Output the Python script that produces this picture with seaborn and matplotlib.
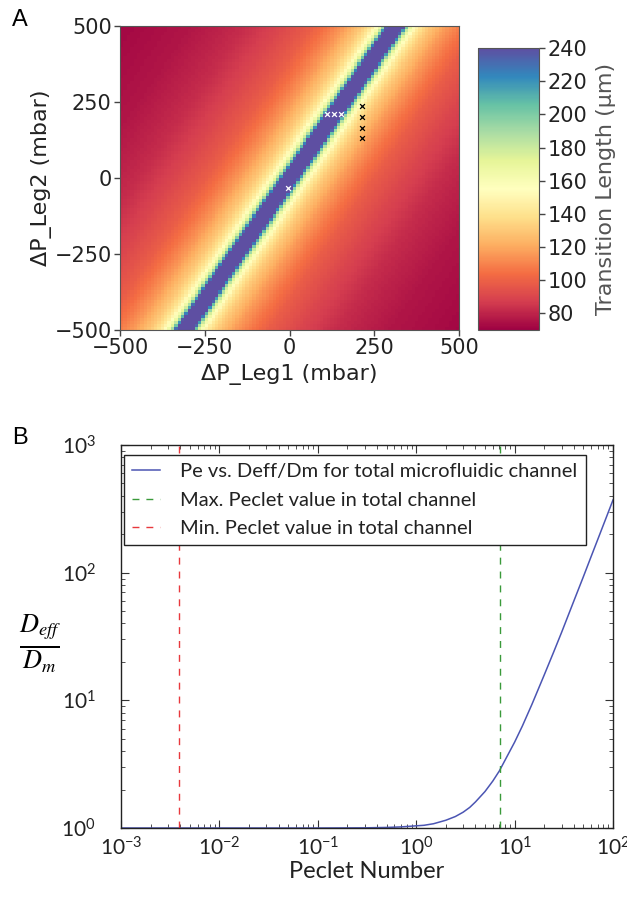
import numpy as np
import pandas as pd
import matplotlib
matplotlib.use("Agg")
import matplotlib.pyplot as plt
import seaborn as sns
from matplotlib.ticker import FixedLocator, FixedFormatter, LogLocator, NullFormatter

# ---------------- Panel A data ----------------
P_LEG1 = np.arange(-495, 500, 10)          # cell centres along x (mbar)
P_LEG2 = np.arange(495, -500, -10)         # cell centres along y (mbar), top row first
BAND_Y = [-500, 500]                        # centre line of the long-transition band
BAND_X = [-311, 314]
PROFILE_DIST = [0, 24, 29, 36, 44, 54, 66, 80, 100, 150, 200, 250, 350, 450, 600, 800, 1000]
PROFILE_VAL = [300, 245, 222, 192, 170, 157, 146, 138, 130, 116, 106, 98, 89, 82, 76, 72, 70]
CBAR_TICKS = [80, 100, 120, 140, 160, 180, 200, 220, 240]
AXIS_TICKS = [-500, -250, 0, 250, 500]
WHITE_X = [110, 131, 153, -4]
WHITE_Y = [210, 210, 210, -32]
BLACK_X = [215, 215, 215, 215]
BLACK_Y = [237, 202, 163, 130]

# ---------------- Panel B data ----------------
PE = [0.001, 0.01, 0.1, 0.3, 0.5, 0.7, 1, 1.2, 1.5, 2, 2.5, 3, 3.5, 4, 5, 6, 7, 8,
      10, 12, 15, 20, 25, 30, 40, 50, 60, 70, 85, 100]
DEFF_DM = [1.0, 1.0, 1.0, 1.003, 1.01, 1.02, 1.04, 1.05, 1.08, 1.15, 1.23, 1.33, 1.45,
           1.6, 1.93, 2.33, 2.8, 3.4, 4.7, 6.3, 9.3, 15.8, 24, 34, 60, 93, 134, 182, 268, 371]
PE_MAX = 7.1
PE_MIN = 0.0039
LEGEND_LABELS = ["Pe vs. Deff/Dm for total microfluidic channel",
                 "Max. Peclet value in total channel",
                 "Min. Peclet value in total channel"]
X_DECADES = [-3, -2, -1, 0, 1, 2]
Y_DECADES = [0, 1, 2, 3]

W, H = 627, 901
fig = plt.figure(figsize=(W / 100, H / 100), dpi=100)


def fx(px):
    return px / W


def fy(py):
    return 1 - py / H


# ---------------- Panel A ----------------
XX, YY = np.meshgrid(P_LEG1, P_LEG2)
centre = np.interp(YY, BAND_Y, BAND_X)
vals = np.interp(np.abs(XX - centre), PROFILE_DIST, PROFILE_VAL)
df = pd.DataFrame(vals, index=P_LEG2, columns=P_LEG1)

ax = fig.add_axes([fx(120), fy(330), fx(459) - fx(120), fy(26) - fy(330)])
cax = fig.add_axes([fx(478), fy(330), fx(539) - fx(478), fy(48) - fy(330)])
sns.heatmap(df, ax=ax, cmap="Spectral", vmin=70, vmax=240, cbar_ax=cax,
            xticklabels=False, yticklabels=False, cbar_kws={"ticks": CBAR_TICKS})

ncol = len(P_LEG1)
step = 1000 / ncol


def col_of(v):
    return (np.asarray(v) + 500) / step


def row_of(v):
    return (500 - np.asarray(v)) / step


ax.scatter(col_of(WHITE_X), row_of(WHITE_Y), marker="x", s=12, color="white", linewidths=0.9, zorder=5)
ax.scatter(col_of(BLACK_X), row_of(BLACK_Y), marker="x", s=12, color="black", linewidths=0.9, zorder=5)

lab = lambda v: str(v).replace("-", "\u2212")
ax.set_xticks(col_of(AXIS_TICKS))
ax.set_xticklabels([lab(v) for v in AXIS_TICKS], rotation=0)
ax.set_yticks(row_of(AXIS_TICKS))
ax.set_yticklabels([lab(v) for v in AXIS_TICKS], rotation=0)
ax.tick_params(axis="both", which="major", direction="out", length=4, width=1,
               color="#444444", labelsize=15, labelcolor="#222222", pad=2)
for s in ax.spines.values():
    s.set_visible(True)
    s.set_color("#555555")
    s.set_linewidth(0.8)
ax.set_xlabel("\u0394P_Leg1 (mbar)", fontsize=16, color="#222222", labelpad=4)
ax.set_ylabel("\u0394P_Leg2 (mbar)", fontsize=16, color="#222222", labelpad=2)

cb = ax.collections[0].colorbar
cb.outline.set_visible(True)
cb.outline.set_linewidth(0.8)
cb.outline.set_edgecolor("#555555")
cax.tick_params(labelsize=15, length=4, width=1, color="#444444", labelcolor="#222222", pad=2)
cax.set_yticklabels([str(v) for v in CBAR_TICKS])
cax.set_ylabel("Transition Length (\u03bcm)", fontsize=16, color="#555555", labelpad=6)

fig.text(fx(12), fy(20), "A", fontsize=17, family="Liberation Sans", va="center", ha="left")
fig.text(fx(12), fy(438), "B", fontsize=17, family="Liberation Sans", va="center", ha="left")

# ---------------- Panel B ----------------
plt.rcParams["mathtext.fontset"] = "custom"
plt.rcParams["mathtext.rm"] = "Lato"
plt.rcParams["mathtext.it"] = "Lato:italic"
plt.rcParams["mathtext.bf"] = "Lato:bold"

ax2 = fig.add_axes([fx(121), fy(828), fx(613) - fx(121), fy(445) - fy(828)])
sns.lineplot(x=PE, y=DEFF_DM, ax=ax2, color="#4b55b3", linewidth=1.1, label=LEGEND_LABELS[0])
ax2.axvline(PE_MAX, color="#3a9a3a", linestyle=(0, (5, 5)), linewidth=1.0, label=LEGEND_LABELS[1])
ax2.axvline(PE_MIN, color="#e8383d", linestyle=(0, (5, 5)), linewidth=1.0, label=LEGEND_LABELS[2])
ax2.set_xscale("log")
ax2.set_yscale("log")
ax2.set_xlim(10.0 ** X_DECADES[0], 10.0 ** X_DECADES[-1])
ax2.set_ylim(10.0 ** Y_DECADES[0], 10.0 ** Y_DECADES[-1])

ax2.xaxis.set_major_locator(FixedLocator([10.0 ** d for d in X_DECADES]))
ax2.xaxis.set_major_formatter(FixedFormatter([r"$\mathrm{10^{%d}}$" % d for d in X_DECADES]))
ax2.yaxis.set_major_locator(FixedLocator([10.0 ** d for d in Y_DECADES]))
ax2.yaxis.set_major_formatter(FixedFormatter([r"$\mathrm{10^{%d}}$" % d for d in Y_DECADES]))
ax2.xaxis.set_minor_locator(LogLocator(base=10, subs=np.arange(2, 10)))
ax2.yaxis.set_minor_locator(LogLocator(base=10, subs=np.arange(2, 10)))
ax2.xaxis.set_minor_formatter(NullFormatter())
ax2.yaxis.set_minor_formatter(NullFormatter())
ax2.tick_params(which="both", direction="in", top=True, right=True, color="#333333")
ax2.tick_params(which="major", length=6, width=0.8, labelsize=15, labelcolor="#222222")
ax2.tick_params(axis="x", which="major", pad=6)
ax2.tick_params(axis="y", which="major", pad=18)
ax2.tick_params(which="minor", length=3, width=0.6)
for s in ax2.spines.values():
    s.set_color("#222222")
    s.set_linewidth(1.0)
ax2.set_xlabel("Peclet Number", fontsize=17, family="Lato", color="#222222", labelpad=1)
ax2.set_ylabel("")
for t in ax2.get_xticklabels() + ax2.get_yticklabels():
    t.set_family("Lato")

leg = ax2.legend(loc="upper left", bbox_to_anchor=(fx(124), fy(455)), bbox_transform=fig.transFigure,
                 borderaxespad=0, frameon=True, fancybox=False, edgecolor="#222222", framealpha=1,
                 prop={"family": "Lato", "size": 14.5}, handlelength=1.4, handletextpad=1.0,
                 labelspacing=0.57, borderpad=0.4)
leg.get_frame().set_linewidth(1.0)
for t in leg.get_texts():
    t.set_color("#222222")

fig.text(fx(40), fy(644), r"$\frac{D_{eff}}{D_m}$", math_fontfamily="stix", fontsize=27,
         ha="center", va="center")

fig.savefig("out.png", dpi=100)
